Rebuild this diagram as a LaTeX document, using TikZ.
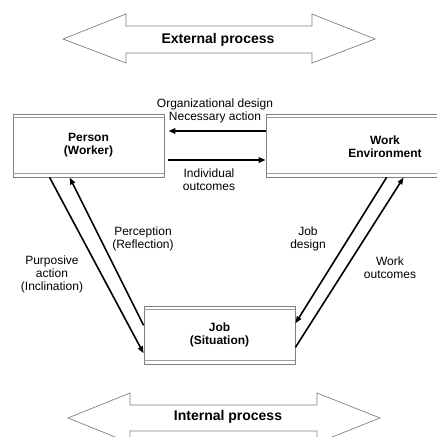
\documentclass[tikz,border=0pt]{standalone}
\usepackage{fontspec}
\setmainfont{Liberation Sans}
\usetikzlibrary{arrows.meta}
\definecolor{frame}{gray}{0.5}
\definecolor{frameinner}{gray}{0.62}
\tikzset{
  box/.style={draw=frame, line width=0.8pt, inner sep=0pt, font=\fontsize{12}{13}\selectfont\bfseries, align=center},
  boxtxt/.style={inner sep=0pt, font=\fontsize{12}{13}\selectfont\bfseries, align=center},
  inner rule/.style={draw=frameinner, line width=0.8pt},
  txt/.style={font=\fontsize{12}{13}\selectfont, align=center, inner sep=1pt},
  bigarrow/.style={draw=frame, line width=0.7pt, line join=miter},
  bigtxt/.style={font=\fontsize{14}{16}\selectfont\bfseries, inner sep=0pt},
  flow/.style={line width=1.6pt, -{Triangle[length=7pt,width=5pt]}},
  hflow/.style={line width=2pt, -{Triangle[length=7pt,width=5.5pt]}}
}
\begin{document}
\begin{tikzpicture}[x=1pt,y=-1pt]
\useasboundingbox (0,0) rectangle (437,437);

% outer block arrow
\draw[bigarrow] (63,39) -- (126,14) -- (126,26) -- (312,26) -- (312,14) -- (375,39)
  -- (312,63) -- (312,53) -- (126,53) -- (126,63) -- cycle;
\node[bigtxt] (ext) at (218,40) {External process};

% inner block arrow
\draw[bigarrow] (68,418) -- (130,393) -- (130,405) -- (317,405) -- (317,393) -- (380,418)
  -- (317,443) -- (317,431) -- (130,431) -- (130,443) -- cycle;
\node[bigtxt] (int) at (228,417) {Internal process};

% the three boxes
\node[box, minimum width=151pt, minimum height=63pt] (person) at (88.5,145.5) {Person\\(Worker)};
\node[box, minimum width=175pt, minimum height=63pt] (work) at (353.5,145.5) {};
\node[boxtxt] (worklabel) at (385,146.5) {Work\\Environment};
\node[box, minimum width=151pt, minimum height=58pt] (job) at (219.5,335) {Job\\(Situation)};

% double rules along the top and bottom of each box
\foreach \b in {person,work,job}{
  \draw[inner rule] ([yshift=-4pt]\b.north west) -- ([yshift=-4pt]\b.north east);
  \draw[inner rule] ([yshift=4pt]\b.south west) -- ([yshift=4pt]\b.south east);
}

% labels between person and environment
\node[txt] (orgdesign) at (215,104) {Organizational design};
\node[txt] (necessary) at (215,117) {Necessary action};
\node[txt] (indiv) at (209,180) {Individual\\outcomes};

% horizontal flows
\draw[hflow, shorten >=4pt] ([yshift=14.5pt]work.west) -- ([yshift=14.5pt]person.east);
\draw[hflow, shorten <=4pt] ([yshift=-14.5pt]person.east) -- ([yshift=-14.5pt]work.west);

% flows between person and job
\draw[flow] ([xshift=37pt]person.south west) -- ([yshift=11pt]job.south west);
\draw[flow] ([yshift=39pt]job.south west) -- ([xshift=57pt]person.south west);

% flows between environment and job
\draw[flow] ([xshift=121pt]work.south west) -- ([yshift=41pt]job.south east);
\draw[flow] ([yshift=17pt]job.south east) -- ([xshift=138pt]work.south west);

% side labels
\node[txt] (perception) at (143,239) {Perception\\(Reflection)};
\node[txt] (purposive) at (52,274) {Purposive\\action\\(Inclination)};
\node[txt] (jobdesign) at (308,239) {Job\\design};
\node[txt] (workout) at (390,268) {Work\\outcomes};
\end{tikzpicture}
\end{document}
